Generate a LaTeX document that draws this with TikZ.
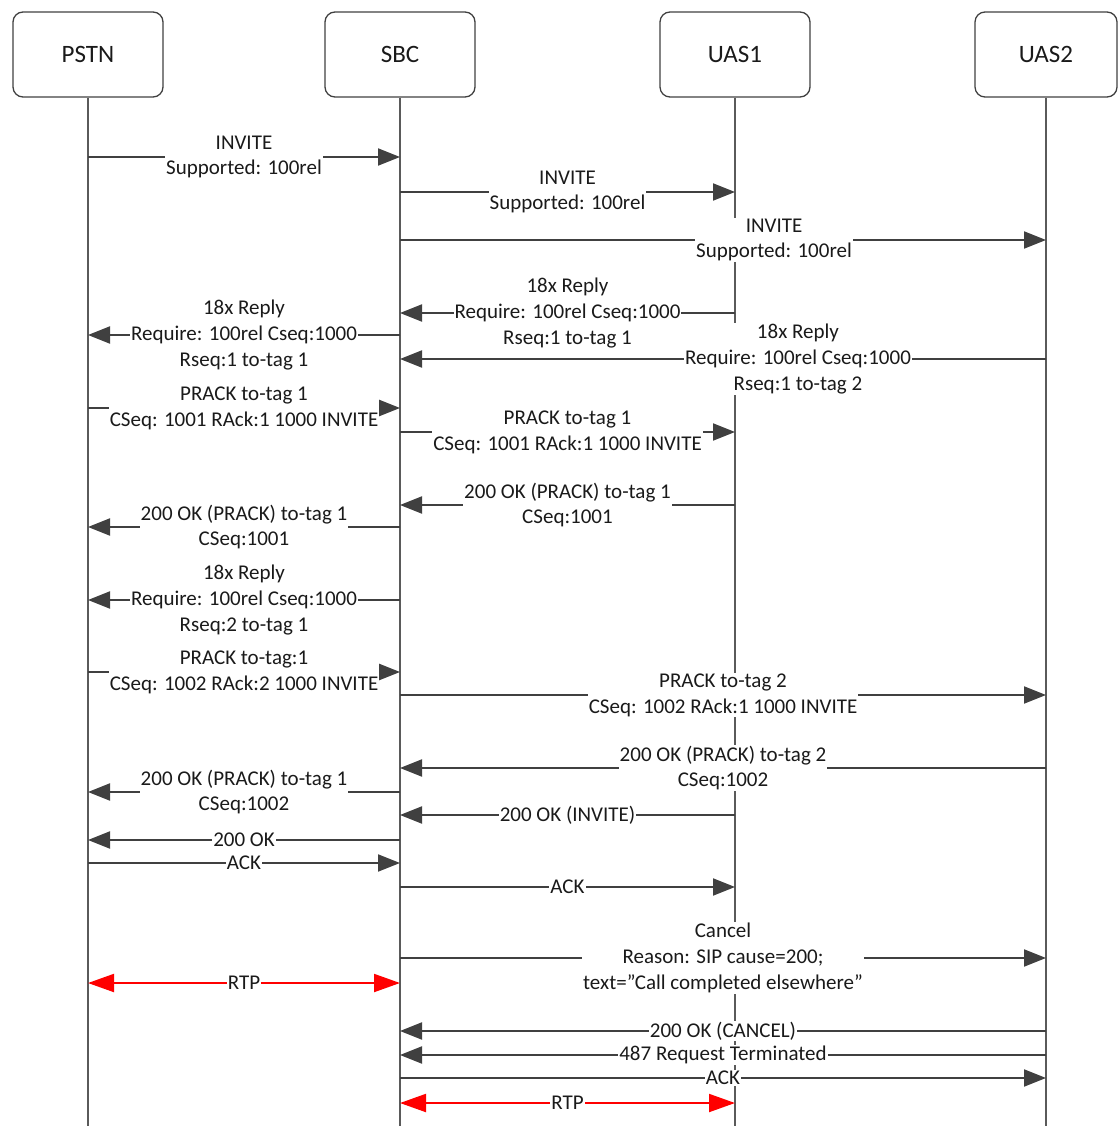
\documentclass[tikz,border=0pt]{standalone}
\usepackage{fontspec}
\setmainfont{Carlito}
\usetikzlibrary{arrows.meta}
\definecolor{boxgray}{HTML}{404040}
\definecolor{lifegray}{HTML}{5A5A5A}
\definecolor{arrowgray}{HTML}{404040}
\definecolor{txtgray}{HTML}{1A1A1A}
\newcommand\lblfont{\fontsize{21}{25.8}\selectfont}
\newcommand\headfont{\fontsize{25}{30}\selectfont}

\begin{document}
\begin{tikzpicture}[x=1pt, y=-1pt, font=\lblfont,
  >={Triangle[length=22pt,width=17pt]},
  head/.style={draw=boxgray, line width=1.3pt, rounded corners=10pt, minimum width=150pt, minimum height=85pt, font=\headfont, text=txtgray},
  life/.style={draw=lifegray, line width=2pt},
  msg/.style={draw=arrowgray, line width=2pt, ->},
  rtp/.style={draw=red, line width=2pt, {Triangle[length=26pt,width=18pt]}-{Triangle[length=26pt,width=18pt]}},
  lbl/.style={fill=white, inner sep=1pt, align=center, text=txtgray}]
  \useasboundingbox (0,0) rectangle (1118,1126);
  \node[head] (pstn) at (88,54.5) {PSTN};
  \node[head] (sbc) at (400,54.5) {SBC};
  \node[head] (uas1) at (735,54.5) {UAS1};
  \node[head, minimum width=142pt] (uas2) at (1046,54.5) {UAS2};
  \draw[life] (pstn.south) -- (pstn |- 0,1126);
  \draw[life] (sbc.south) -- (sbc |- 0,1126);
  \draw[life] (uas1.south) -- (uas1 |- 0,1126);
  \draw[life] (uas2.south) -- (uas2 |- 0,1126);
  \draw[msg] (pstn |- 0,157) -- node[lbl] {INVITE\\Supported: 100rel} (sbc |- 0,157);
  \draw[msg] (sbc |- 0,192) -- node[lbl] {INVITE\\Supported: 100rel} (uas1 |- 0,192);
  \draw[msg] (sbc |- 0,240) -- node[lbl, pos=0.579] {INVITE\\Supported: 100rel} (uas2 |- 0,240);
  \draw[msg] (uas1 |- 0,313) -- node[lbl] {18x Reply\\Require: 100rel Cseq:1000\\Rseq:1 to-tag 1} (sbc |- 0,313);
  \draw[msg] (sbc |- 0,335) -- node[lbl] {18x Reply\\Require: 100rel Cseq:1000\\Rseq:1 to-tag 1} (pstn |- 0,335);
  \draw[msg] (uas2 |- 0,359) -- node[lbl, pos=0.384] {18x Reply\\Require: 100rel Cseq:1000\\Rseq:1 to-tag 2} (sbc |- 0,359);
  \draw[msg] (pstn |- 0,408) -- node[lbl] {PRACK to-tag 1\\CSeq: 1001 RAck:1 1000 INVITE} (sbc |- 0,408);
  \draw[msg] (sbc |- 0,432) -- node[lbl] {PRACK to-tag 1\\CSeq: 1001 RAck:1 1000 INVITE} (uas1 |- 0,432);
  \draw[msg] (uas1 |- 0,505) -- node[lbl] {200 OK (PRACK) to-tag 1\\CSeq:1001} (sbc |- 0,505);
  \draw[msg] (sbc |- 0,527) -- node[lbl] {200 OK (PRACK) to-tag 1\\CSeq:1001} (pstn |- 0,527);
  \draw[msg] (sbc |- 0,600) -- node[lbl] {18x Reply\\Require: 100rel Cseq:1000\\Rseq:2 to-tag 1} (pstn |- 0,600);
  \draw[msg] (pstn |- 0,672) -- node[lbl] {PRACK to-tag:1\\CSeq: 1002 RAck:2 1000 INVITE} (sbc |- 0,672);
  \draw[msg] (sbc |- 0,695) -- node[lbl] {PRACK to-tag 2\\CSeq: 1002 RAck:1 1000 INVITE} (uas2 |- 0,695);
  \draw[msg] (uas2 |- 0,768) -- node[lbl] {200 OK (PRACK) to-tag 2\\CSeq:1002} (sbc |- 0,768);
  \draw[msg] (sbc |- 0,792) -- node[lbl] {200 OK (PRACK) to-tag 1\\CSeq:1002} (pstn |- 0,792);
  \draw[msg] (uas1 |- 0,815) -- node[lbl] {200 OK (INVITE)} (sbc |- 0,815);
  \draw[msg] (sbc |- 0,840) -- node[lbl] {200 OK} (pstn |- 0,840);
  \draw[msg] (pstn |- 0,863) -- node[lbl] {ACK} (sbc |- 0,863);
  \draw[msg] (sbc |- 0,887) -- node[lbl] {ACK} (uas1 |- 0,887);
  \draw[msg] (sbc |- 0,958) -- node[lbl] {Cancel\\Reason: SIP cause=200;\\text=”Call completed elsewhere”} (uas2 |- 0,958);
  \draw[rtp] (pstn |- 0,983) -- node[lbl] {RTP} (sbc |- 0,983);
  \draw[msg] (uas2 |- 0,1031) -- node[lbl] {200 OK (CANCEL)} (sbc |- 0,1031);
  \draw[msg] (uas2 |- 0,1055) -- node[lbl] {487 Request Terminated} (sbc |- 0,1055);
  \draw[msg] (sbc |- 0,1078) -- node[lbl] {ACK} (uas2 |- 0,1078);
  \draw[rtp] (sbc |- 0,1103) -- node[lbl] {RTP} (uas1 |- 0,1103);
\end{tikzpicture}
\end{document}
